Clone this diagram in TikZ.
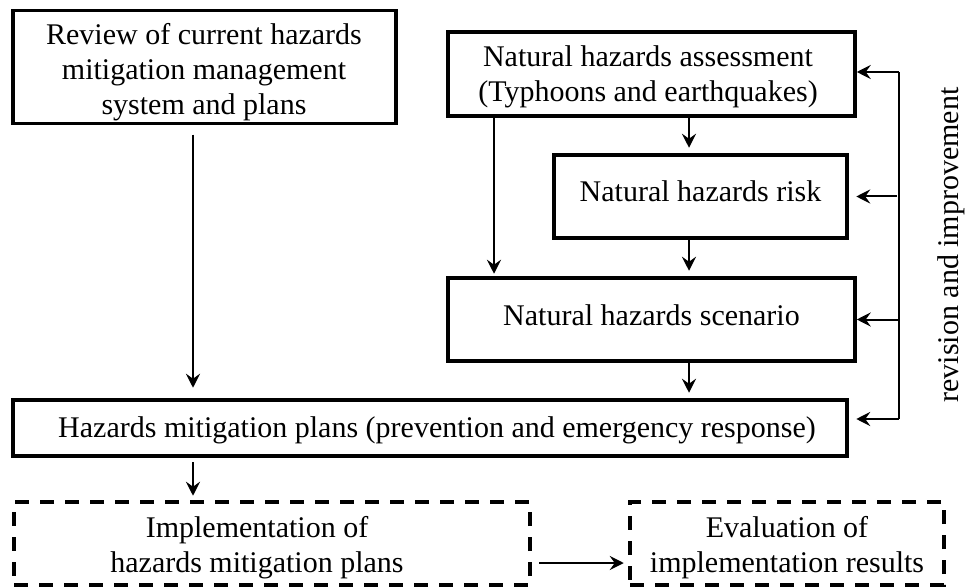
\documentclass[tikz,border=0pt]{standalone}
\usepackage{fontspec}
\setmainfont{Liberation Serif}
\usetikzlibrary{arrows.meta}
\begin{document}
\begin{tikzpicture}[x=1pt,y=-1pt,
  box/.style={draw, line width=3.5pt, inner sep=0pt},
  dbox/.style={box, dash pattern=on 14pt off 11pt},
  txt/.style={inner sep=0pt, align=center, anchor=base, font=\fontsize{30}{35}\selectfont},
  arr/.style={line width=2pt, -{Stealth[length=14pt,width=14pt,inset=5pt]}},
  ln/.style={line width=2pt}]
\useasboundingbox (0,0) rectangle (967,588);
% boxes
\node[box, minimum width=383pt, minimum height=113pt] (review) at (204.5,67) {};
\node[txt] (reviewtxt) at (204,115) {Review of current hazards\\mitigation management\\system and plans};
\node[box, minimum width=407pt, minimum height=84pt] (assess) at (651.5,74) {};
\node[txt] (assesstxt) at (648,102) {Natural hazards assessment\\(Typhoons and earthquakes)};
\node[box, minimum width=293pt, minimum height=83pt] (risk) at (700.5,196.5) {};
\node[txt] (risktxt) at (700.5,202) {Natural hazards risk};
\node[box, minimum width=407pt, minimum height=83pt] (scen) at (651.5,319.5) {};
\node[txt] (scentxt) at (651.5,325) {Natural hazards scenario};
\node[box, minimum width=834pt, minimum height=56pt] (plans) at (430,428) {};
\node[txt] (planstxt) at (437,437) {Hazards mitigation plans (prevention and emergency response)};
\node[dbox, minimum width=516pt, minimum height=83pt] (impl) at (272,543.5) {};
\node[txt] (impltxt) at (257,572) {Implementation of\\hazards mitigation plans};
\node[dbox, minimum width=314pt, minimum height=83pt] (eval) at (787,543.5) {};
\node[txt] (evaltxt) at (787,572) {Evaluation of\\implementation results};
% connectors
\coordinate (xl) at (193,0);
\coordinate (xm) at (689,0);
\coordinate (xn) at (494,0);
\coordinate (yi) at (0,563);
\draw[arr, shorten <=9.5pt, shorten >=10.5pt] (review.south -| xl) -- (plans.north -| xl);
\draw[arr, shorten >=5.5pt] (assess.south -| xm) -- (risk.north -| xm);
\draw[arr, shorten >=5.5pt] (risk.south -| xm) -- (scen.north -| xm);
\draw[arr, shorten >=2.5pt] (assess.south -| xn) -- (scen.north -| xn);
\draw[arr, shorten >=5.5pt] (scen.south -| xm) -- (plans.north -| xm);
\draw[arr, shorten <=4.5pt, shorten >=4.5pt] (plans.south -| xl) -- (impl.north -| xl);
\draw[arr, shorten <=7.5pt, shorten >=4.5pt] (impl.east |- yi) -- (eval.west |- yi);
% feedback
\coordinate (fbt) at (899,72);
\coordinate (fbb) at (899,419);
\draw[ln] (fbt) -- (fbb);
\draw[arr] (fbt) -- (fbt -| assess.east);
\draw[arr, shorten <=2pt, shorten >=7.5pt] (risk.east -| fbt) -- (risk.east);
\draw[arr] (scen.east -| fbt) -- (scen.east);
\draw[arr, shorten >=7.5pt] (fbb) -- (fbb -| plans.east);
\node[txt, rotate=90] (lbl) at (958,245) {revision and improvement};
\end{tikzpicture}
\end{document}
